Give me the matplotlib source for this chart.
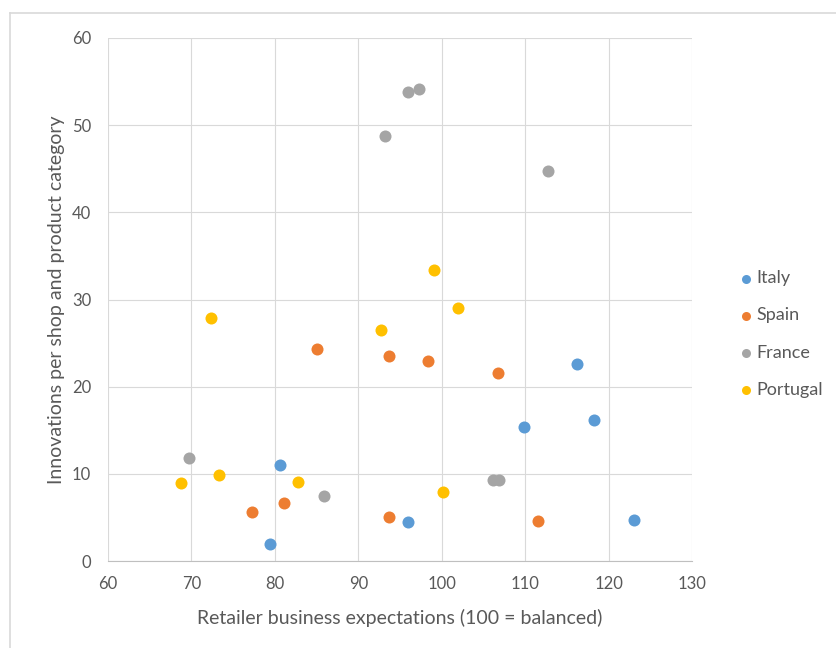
import matplotlib
matplotlib.use("Agg")
import matplotlib.pyplot as plt
from matplotlib.lines import Line2D

plt.rcParams['font.family'] = ['Lato', 'DejaVu Sans']

# Retailer business expectations (x) vs innovations per shop and product category (y)
italy_x = [80.6, 79.4, 96.0, 109.9, 116.2, 118.2, 123.1]
italy_y = [11.0, 2.0, 4.5, 15.4, 22.6, 16.2, 4.7]

spain_x = [85.0, 93.7, 98.4, 106.7, 77.3, 81.1, 93.7, 111.6]
spain_y = [24.3, 23.5, 22.9, 21.6, 5.6, 6.7, 5.1, 4.6]

france_x = [95.9, 97.3, 93.2, 112.7, 69.7, 85.9, 106.2, 106.9]
france_y = [53.8, 54.2, 48.8, 44.7, 11.8, 7.4, 9.3, 9.3]

portugal_x = [72.4, 92.7, 99.1, 102.0, 68.8, 73.3, 82.8, 100.2]
portugal_y = [27.9, 26.5, 33.4, 29.0, 8.9, 9.9, 9.1, 7.9]

series = [
    ("Italy", italy_x, italy_y, "#5B9BD5"),
    ("Spain", spain_x, spain_y, "#ED7D31"),
    ("France", france_x, france_y, "#A5A5A5"),
    ("Portugal", portugal_x, portugal_y, "#FFC000"),
]

x_ticks = [60, 70, 80, 90, 100, 110, 120, 130]
y_ticks = [0, 10, 20, 30, 40, 50, 60]

text_color = "#595959"

fig = plt.figure(figsize=(8.36, 6.48), dpi=100)
ax = fig.add_axes([108 / 836, 1 - 561 / 648, (692 - 108) / 836, (561 - 38) / 648])

for name, xs, ys, color in series:
    ax.scatter(xs, ys, s=75, color=color, label=name, zorder=3, linewidths=0)

ax.set_xlim(60, 130)
ax.set_ylim(0, 60)
ax.set_xticks(x_ticks)
ax.set_yticks(y_ticks)
ax.grid(True, color="#d9d9d9", linewidth=0.8, zorder=0)
ax.tick_params(length=0, labelsize=12, labelcolor=text_color)
ax.tick_params(axis="x", pad=11)
ax.tick_params(axis="y", pad=12)
for side in ["top", "right", "left"]:
    ax.spines[side].set_visible(False)
ax.spines["bottom"].set_color("#bfbfbf")
ax.spines["bottom"].set_linewidth(0.8)

ax.set_xlabel("Retailer business expectations (100 = balanced)", fontsize=14,
              color=text_color, labelpad=12)
ax.set_ylabel("Innovations per shop and product category", fontsize=14,
              color=text_color, labelpad=5)

leg = ax.legend(loc="center left", bbox_to_anchor=(1.065, 0.434), frameon=False,
                fontsize=13, labelcolor=text_color, handletextpad=0.05,
                labelspacing=1.17, markerscale=0.75, handlelength=1.0,
                borderaxespad=0.0)

# chart area frame
fig.add_artist(Line2D([10 / 836, 1.0], [1 - 13 / 648, 1 - 13 / 648],
                      transform=fig.transFigure, color="#d9d9d9", linewidth=1.2))
fig.add_artist(Line2D([10 / 836, 10 / 836], [0.0, 1 - 13 / 648],
                      transform=fig.transFigure, color="#d9d9d9", linewidth=1.2))

fig.savefig("out.png", dpi=100)
